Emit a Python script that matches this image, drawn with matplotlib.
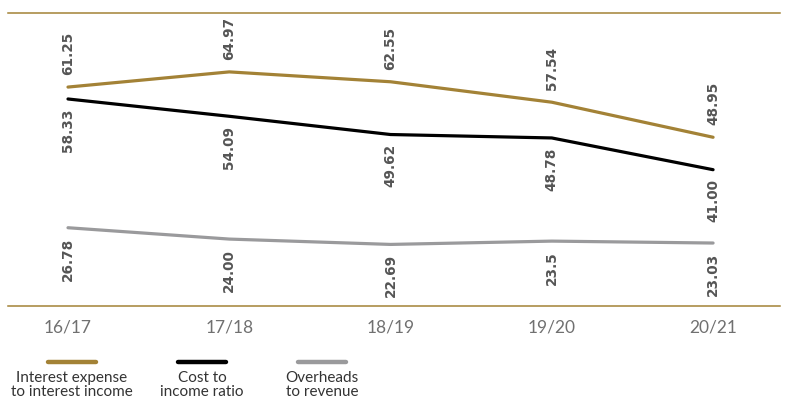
import matplotlib
matplotlib.use("Agg")
import matplotlib.pyplot as plt
from matplotlib.lines import Line2D

# data
years = ["16/17", "17/18", "18/19", "19/20", "20/21"]
interest_exp = [61.25, 64.97, 62.55, 57.54, 48.95]
cost_income = [58.33, 54.09, 49.62, 48.78, 41.00]
overheads = [26.78, 24.00, 22.69, 23.5, 23.03]
interest_lbl = ["61.25", "64.97", "62.55", "57.54", "48.95"]
cost_lbl = ["58.33", "54.09", "49.62", "48.78", "41.00"]
overhead_lbl = ["26.78", "24.00", "22.69", "23.5", "23.03"]
legend_names = ["Interest expense\nto interest income", "Cost to\nincome ratio", "Overheads\nto revenue"]

gold = "#a38236"
black = "#000000"
grey = "#9a9a9c"
txt = "#555555"

fig = plt.figure(figsize=(7.85, 4.12), dpi=100)
ax = fig.add_axes([8/785, 106/412, 772/785, 293/412])

x = list(range(len(years)))
ax.plot(x, interest_exp, color=gold, lw=2.3, solid_capstyle="round")
ax.plot(x, cost_income, color=black, lw=2.3, solid_capstyle="round")
ax.plot(x, overheads, color=grey, lw=2.3, solid_capstyle="round")

lbl_font = dict(fontsize=9.8, fontweight="bold", color=txt, rotation=90,
                ha="center", family="DejaVu Sans")
for xi, v, s in zip(x, interest_exp, interest_lbl):
    ax.annotate(s, (xi, v), xytext=(0, 8.5), textcoords="offset points",
                va="bottom", **lbl_font)
for xi, v, s in zip(x, cost_income, cost_lbl):
    ax.annotate(s, (xi, v), xytext=(0, -7), textcoords="offset points",
                va="top", **lbl_font)
for xi, v, s in zip(x, overheads, overhead_lbl):
    ax.annotate(s, (xi, v), xytext=(0, -7), textcoords="offset points",
                va="top", **lbl_font)

ax.set_xlim(-0.372, 4.415)
ax.set_ylim(7.6, 79.4)
ax.set_xticks(x)
ax.set_xticklabels(years, fontsize=12.5, color="#707070", family="Lato")
ax.tick_params(axis="x", length=0, pad=10)
ax.set_yticks([])
for side in ["left", "right"]:
    ax.spines[side].set_visible(False)
for side in ["top", "bottom"]:
    ax.spines[side].set_color(gold)
    ax.spines[side].set_linewidth(1.1)

# legend below the chart
leg_x = [72, 202, 322]
for cx, c, name in zip(leg_x, [gold, black, grey], legend_names):
    fig.add_artist(Line2D([(cx - 24)/785, (cx + 24)/785], [1 - 362/412, 1 - 362/412],
                          color=c, lw=3.2, solid_capstyle="round"))
    fig.text(cx/785, 1 - 371/412, name, ha="center", va="top", fontsize=11,
             color="#333333", family="Lato", linespacing=1.0)

plt.savefig("out.png", dpi=100)
